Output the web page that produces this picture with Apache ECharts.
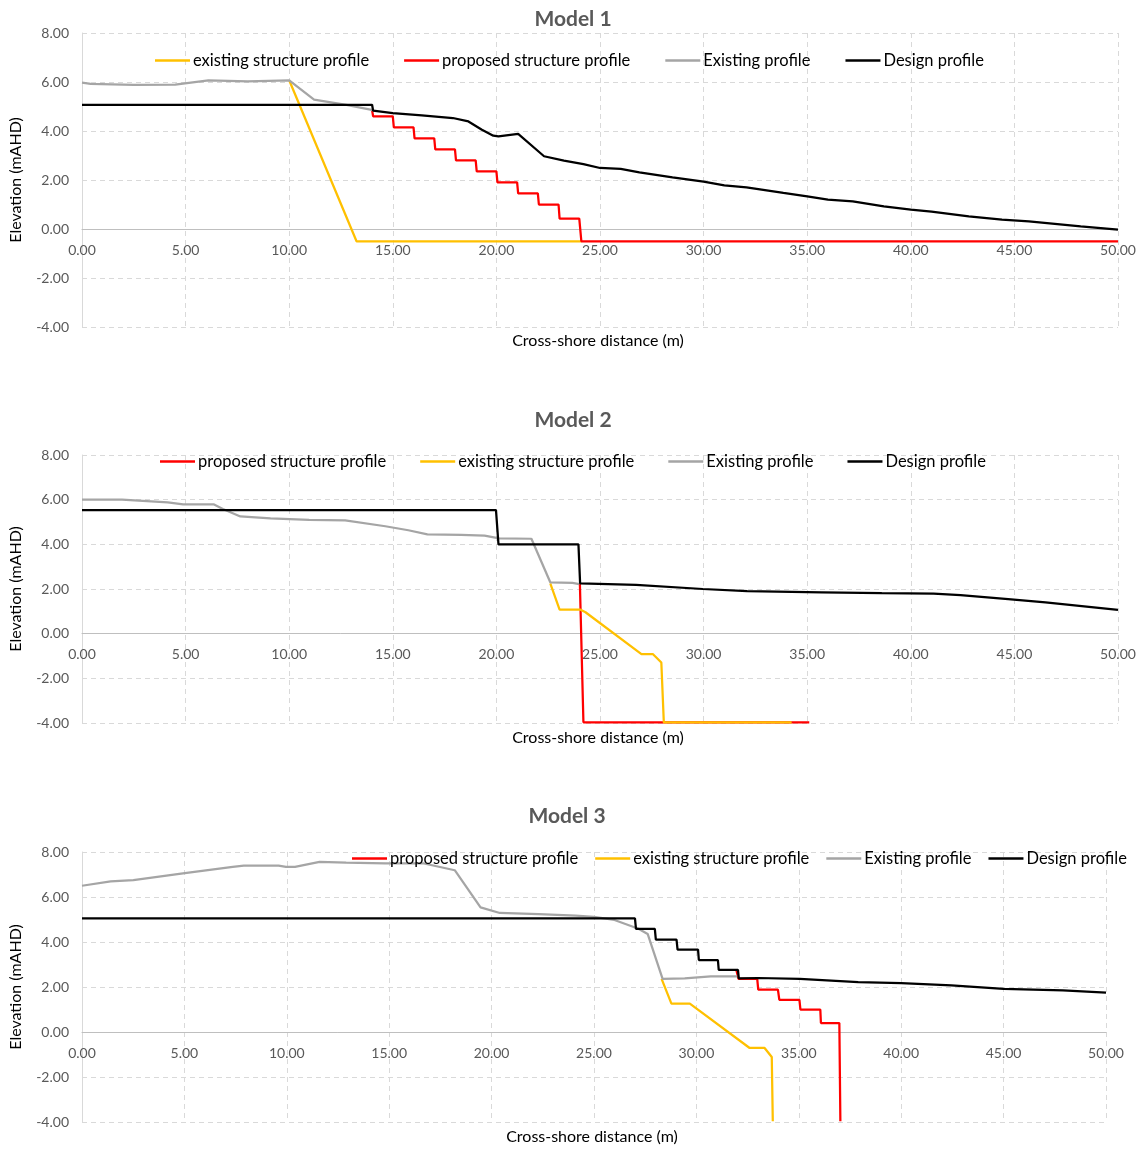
<!DOCTYPE html>
<html><head><meta charset="utf-8">
<script src="https://cdn.jsdelivr.net/npm/echarts@6/dist/echarts.min.js"></script>
<style>html,body{margin:0;padding:0;background:#fff}#c{width:1143px;height:1151px}</style>
</head><body><div id="c"></div>
<script>
// ---------- data ----------
const panelTitles = ['Model 1', 'Model 2', 'Model 3'];
const xAxisTitle = 'Cross-shore distance (m)';
const yAxisTitle = 'Elevation (mAHD)';
const xRange = [0, 50, 5];
const yRange = [-4, 8, 2];

// Model 1
const m1ExistingStructure = [[10.0,6.07],[13.25,-0.5],[24.1,-0.5]];
const m1Proposed = [[14.0,4.85],[14.05,4.6],[15.0,4.6],[15.05,4.15],[16.0,4.15],[16.05,3.7],[17.0,3.7],[17.05,3.25],[18.0,3.25],[18.05,2.8],[19.0,2.8],[19.05,2.35],[20.0,2.35],[20.05,1.9],[21.0,1.9],[21.05,1.45],[22.0,1.45],[22.05,1.0],[23.0,1.0],[23.05,0.42],[24.0,0.42],[24.1,-0.5],[50,-0.5]];
const m1Existing = [[0,5.97],[0.42,5.92],[2.5,5.88],[4.5,5.89],[6.1,6.07],[8.0,6.03],[10.0,6.07],[11.2,5.28],[12.76,5.07],[14.1,4.84]];
const m1Design = [[0,5.07],[14.0,5.07],[14.05,4.83],[15.0,4.73],[16.4,4.64],[17.9,4.53],[18.65,4.39],[19.3,4.05],[19.85,3.81],[20.1,3.78],[21.05,3.88],[22.3,2.97],[23.26,2.79],[24.2,2.65],[25.0,2.49],[26.0,2.45],[26.9,2.31],[28.5,2.11],[30.0,1.93],[31.0,1.78],[32.07,1.70],[33.85,1.47],[35.0,1.33],[36.0,1.20],[37.2,1.13],[38.7,0.92],[40.0,0.79],[41.0,0.71],[42.8,0.52],[44.4,0.38],[45.7,0.31],[48.2,0.11],[50.0,-0.03]];

// Model 2
const m2Proposed = [[24.03,2.22],[24.2,-3.97],[35.1,-3.97]];
const m2ExistingStructure = [[22.6,2.25],[23.05,1.08],[24.04,1.08],[24.3,0.96],[27.0,-0.92],[27.56,-0.92],[27.96,-1.29],[28.08,-3.97],[34.25,-3.97]];
const m2Existing = [[0,6.0],[1.93,6.0],[4.14,5.88],[4.88,5.79],[6.35,5.79],[6.8,5.58],[7.64,5.25],[9.1,5.16],[10.96,5.09],[12.7,5.07],[14.64,4.81],[15.75,4.63],[16.67,4.45],[18.3,4.42],[19.43,4.39],[20.13,4.27],[21.69,4.25],[22.6,2.30],[23.67,2.27],[24.0,2.22]];
const m2Design = [[0,5.53],[19.98,5.53],[20.1,4.0],[23.96,4.0],[24.04,2.25],[26.74,2.18],[29.96,2.0],[32.1,1.9],[35.7,1.85],[38.6,1.81],[41.1,1.79],[42.4,1.73],[44.7,1.55],[46.5,1.40],[50.0,1.07]];

// Model 3
const m3Proposed = [[31.95,2.76],[32.06,2.36],[32.97,2.36],[33.02,1.88],[33.98,1.88],[34.05,1.43],[35.03,1.43],[35.08,1.0],[36.05,1.0],[36.08,0.4],[36.98,0.4],[37.03,-3.97]];
const m3ExistingStructure = [[28.3,2.36],[28.78,1.26],[29.68,1.26],[32.6,-0.71],[33.33,-0.71],[33.68,-1.11],[33.73,-3.97]];
const m3Existing = [[0,6.5],[1.4,6.69],[2.51,6.75],[4.93,7.05],[7.36,7.34],[7.9,7.39],[9.6,7.39],[9.96,7.34],[10.4,7.34],[11.6,7.56],[12.9,7.53],[14.8,7.49],[16.7,7.49],[18.2,7.19],[19.46,5.54],[20.4,5.29],[22.3,5.24],[24.1,5.17],[25.0,5.12],[26.0,4.98],[27.17,4.59],[27.62,4.36],[28.35,2.36],[29.43,2.38],[30.7,2.47],[32.0,2.47]];
const m3Design = [[0,5.05],[27.0,5.05],[27.05,4.58],[27.97,4.58],[28.02,4.11],[29.03,4.11],[29.08,3.66],[30.08,3.66],[30.12,3.2],[31.05,3.2],[31.09,2.76],[32.03,2.76],[32.07,2.38],[33.0,2.4],[35.05,2.36],[37.9,2.22],[40.0,2.17],[42.45,2.07],[45.0,1.92],[47.9,1.85],[50.0,1.75]];

const NAME_EXS = 'existing structure profile';
const NAME_PRO = 'proposed structure profile';
const NAME_EX = 'Existing profile';
const NAME_DES = 'Design profile';

// ---------- style / layout ----------
const COLORS = {};
COLORS[NAME_EXS] = '#FFC000';
COLORS[NAME_PRO] = '#FF0000';
COLORS[NAME_EX] = '#A5A5A5';
COLORS[NAME_DES] = '#000000';

const FONT = 'Lato, "Open Sans", sans-serif';
const panels = [
  { grid: {left: 80, top: 33, width: 1038, height: 294}, title: {x: 568, y: 4}, xname: {x: 598, y: 341},
    legend: {left: 155, top: 52, gap: 35}, order: [[NAME_EXS, m1ExistingStructure],[NAME_PRO, m1Proposed],[NAME_EX, m1Existing],[NAME_DES, m1Design]] },
  { grid: {left: 78, top: 455, width: 1040, height: 268}, title: {x: 568, y: 405}, xname: {x: 598, y: 738},
    legend: {left: 160, top: 453, gap: 34}, order: [[NAME_PRO, m2Proposed],[NAME_EXS, m2ExistingStructure],[NAME_EX, m2Existing],[NAME_DES, m2Design]] },
  { grid: {left: 78, top: 852, width: 1028, height: 270}, title: {x: 562, y: 801}, xname: {x: 592, y: 1137},
    legend: {left: 352, top: 850, gap: 17}, order: [[NAME_PRO, m3Proposed],[NAME_EXS, m3ExistingStructure],[NAME_EX, m3Existing],[NAME_DES, m3Design]] }
];

const option = {
  animation: false,
  backgroundColor: '#ffffff',
  title: [], legend: [], grid: [], xAxis: [], yAxis: [], series: [], graphic: []
};
const dash = {color: '#d9d9d9', width: 1, type: [5, 4]};
panels.forEach((p, i) => {
  option.grid.push(p.grid);
  // x axis sits on y = 0: offset upward by the fraction of the height below zero
  const zeroOffset = -p.grid.height * (0 - yRange[0]) / (yRange[1] - yRange[0]);
  option.title.push({text: panelTitles[i], left: p.title.x, top: p.title.y, textAlign: 'center',
    textStyle: {fontFamily: FONT, fontSize: 21, fontWeight: 'bold', color: '#595959'}});
  option.xAxis.push({type: 'value', gridIndex: i, min: xRange[0], max: xRange[1], interval: xRange[2],
    position: 'bottom', offset: zeroOffset,
    axisLine: {show: true, onZero: false, lineStyle: {color: '#bfbfbf', width: 1}},
    axisTick: {show: false},
    axisLabel: {formatter: v => v.toFixed(2), color: '#595959', fontFamily: FONT, fontSize: 14, margin: 14},
    splitLine: {show: true, lineStyle: dash}});
  option.yAxis.push({type: 'value', gridIndex: i, min: yRange[0], max: yRange[1], interval: yRange[2],
    name: yAxisTitle, nameLocation: 'middle', nameRotate: 90, nameGap: 58,
    nameTextStyle: {fontFamily: FONT, fontSize: 16, color: '#000000'},
    axisLine: {show: true, onZero: false, lineStyle: {color: '#d9d9d9', width: 1}},
    axisTick: {show: false},
    axisLabel: {formatter: v => v.toFixed(2), color: '#595959', fontFamily: FONT, fontSize: 14, margin: 13},
    splitLine: {show: true, lineStyle: dash}});
  option.graphic.push({type: 'text', x: p.xname.x, y: p.xname.y,
    style: {text: xAxisTitle, fontFamily: FONT, fontSize: 16, fill: '#000000', align: 'center', verticalAlign: 'middle'}});
  option.legend.push({data: p.order.map(o => o[0]), left: p.legend.left, top: p.legend.top, width: 1100,
    icon: 'rect', itemWidth: 35, itemHeight: 2.5, itemGap: p.legend.gap, padding: 0,
    textStyle: {fontFamily: FONT, fontSize: 16.5, color: '#000000', padding: [0, 0, 0, -2]}});
  p.order.forEach(([name, data]) => {
    option.series.push({type: 'line', name: name, xAxisIndex: i, yAxisIndex: i, data: data,
      showSymbol: false, symbol: 'none', clip: false, color: COLORS[name],
      lineStyle: {color: COLORS[name], width: 2.25}, emphasis: {disabled: true}});
  });
});
const chart = echarts.init(document.getElementById('c'));
chart.setOption(option);
</script>
</body></html>
